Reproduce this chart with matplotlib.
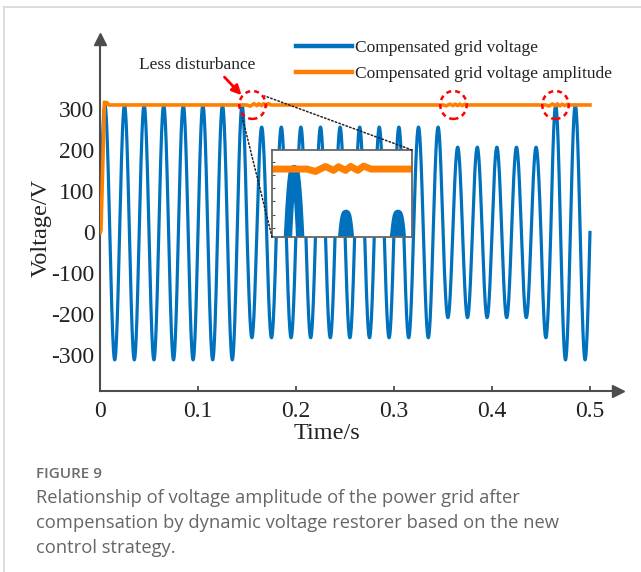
import numpy as np
import matplotlib
matplotlib.use("Agg")
import matplotlib.pyplot as plt
from matplotlib.patches import Ellipse, ConnectionPatch
from matplotlib.lines import Line2D

# ---------------------------------------------
# Data
# ---------------------------------------------
FREQ = 50.0                                   # grid frequency, Hz
seg_start = [0.0, 0.15, 0.35, 0.45, 0.46]     # s, start of each amplitude segment
seg_amp = [311, 257, 208, 257, 311]           # V, peak of the compensated voltage

# amplitude estimate (orange trace)
amp_t = [0.0, 0.001, 0.003, 0.0045, 0.0055, 0.007, 0.009,
         0.150, 0.1532, 0.1571, 0.1602, 0.1621, 0.1648, 0.1668, 0.1695, 0.1718, 0.1746,
         0.350, 0.3532, 0.3571, 0.3602, 0.3625, 0.3650, 0.3672, 0.3698, 0.3720, 0.3748,
         0.455, 0.4582, 0.4618, 0.4645, 0.4668, 0.4693, 0.4717, 0.4745, 0.4770, 0.4795,
         0.500]
amp_v = [0, 5, 180, 318, 313, 317, 311,
         311, 308.1, 314.1, 309.4, 313.8, 309.4, 314.2, 309.4, 314.6, 311,
         311, 309.0, 313.0, 309.5, 313.0, 309.5, 313.0, 309.5, 312.5, 311,
         311, 308.5, 313.5, 309.0, 313.5, 309.0, 313.0, 309.5, 312.5, 311,
         311]

yticks = [-300, -200, -100, 0, 100, 200, 300]
xticks = [0, 0.1, 0.2, 0.3, 0.4, 0.5]
xtick_labels = ["0", "0.1", "0.2", "0.3", "0.4", "0.5"]

t = np.linspace(0, 0.5, 25001)
idx = np.searchsorted(seg_start, t, side="right") - 1
v = np.asarray(seg_amp)[idx] * np.sin(2 * np.pi * FREQ * t)

BLUE = "#0072BD"
ORANGE = "#FF8000"
AXIS = "#4d4d4d"
TXT = "#222222"

plt.rcParams["font.family"] = ["Liberation Serif", "DejaVu Serif"]
plt.rcParams["axes.unicode_minus"] = False

W, H = 641, 572
fig = plt.figure(figsize=(W / 100, H / 100), dpi=100)


def px(l, t_, r, b):
    return [l / W, 1 - b / H, (r - l) / W, (b - t_) / H]


# ---------------------------------------------
# Main axes
# ---------------------------------------------
ax = fig.add_axes(px(100, 39, 618, 391))
ax.plot(t, v, color=BLUE, lw=2.3, label="Compensated grid voltage", zorder=2)
ax.plot(amp_t, amp_v, color=ORANGE, lw=2.6, label="Compensated grid voltage amplitude", zorder=3)

ax.set_xlim(0, 0.5286)
ax.set_ylim(-387, 472)
ax.set_xticks(xticks)
ax.set_xticklabels(xtick_labels)
ax.set_yticks(yticks)
ax.tick_params(axis="x", direction="in", length=3.6, width=1.3, color=AXIS,
               labelsize=17, labelcolor=TXT, pad=7)
ax.tick_params(axis="y", length=0, labelsize=17, labelcolor=TXT, pad=4)
for s in ["top", "right"]:
    ax.spines[s].set_visible(False)
for s in ["left", "bottom"]:
    ax.spines[s].set_color(AXIS)
    ax.spines[s].set_linewidth(1.5)
ax.plot(1, 0, ">", color=AXIS, ms=8, transform=ax.transAxes, clip_on=False)
ax.plot(0, 1, "^", color=AXIS, ms=8, transform=ax.transAxes, clip_on=False)

ax.set_xlabel("Time/s", fontsize=17.5, color=TXT)
ax.xaxis.set_label_coords(0.438, -0.092)
ax.set_ylabel("Voltage/V", fontsize=17.5, color=TXT)
ax.yaxis.set_label_coords(-0.094, 0.463)

leg = ax.legend(loc="upper left", bbox_to_anchor=(296 / W, 1 - 40 / H),
                bbox_transform=fig.transFigure, frameon=False, fontsize=12.5,
                handlelength=3.2, handletextpad=0.2, labelspacing=0.55,
                borderpad=0, borderaxespad=0)
for h in leg.get_lines():
    h.set_linewidth(3.2)
for txt in leg.get_texts():
    txt.set_color(TXT)

# disturbance markers
for cx in [0.1556, 0.3607, 0.4648]:
    ax.add_patch(Ellipse((cx, 311), 0.027, 68, fill=False, ec="#FF0000",
                         lw=1.8, ls=(0, (2, 1.6)), zorder=5))

ax.annotate("", xy=(0.1444, 335), xytext=(0.127, 379),
            arrowprops=dict(arrowstyle="-|>", color="#FF0000", lw=2,
                            mutation_scale=14, shrinkA=0, shrinkB=0))
ax.text(0.0995, 409, "Less disturbance", fontsize=12.5, color=TXT,
        ha="center", va="center")

# ---------------------------------------------
# Inset: zoom on the first disturbance
# ---------------------------------------------
ax_in = fig.add_axes(px(272, 150, 412, 237))
ax_in.plot(t, v, color=BLUE, lw=6)
ax_in.plot(amp_t, amp_v, color=ORANGE, lw=5, solid_joinstyle="round")
ax_in.set_xlim(0.1365, 0.1904)
ax_in.set_ylim(229, 334)
ax_in.set_xticks([0.165, 0.182])
ax_in.set_yticks(np.arange(240, 334, 16))
ax_in.tick_params(direction="in", length=2, width=0.8, color=AXIS,
                  labelbottom=False, labelleft=False)
for s in ax_in.spines.values():
    s.set_color("#666666")
    s.set_linewidth(1.3)

for xyA, xyB in [((1, 1), (0.168, 333)), ((0, 0), (0.1454, 279))]:
    con = ConnectionPatch(xyA=xyA, coordsA=ax_in.transAxes, xyB=xyB,
                          coordsB=ax.transData, ls=(0, (1, 1.5)), lw=1.1,
                          color="#222222", zorder=6)
    fig.add_artist(con)

# ---------------------------------------------
# Card border and caption
# ---------------------------------------------
fig.add_artist(Line2D([4 / W, 1], [1 - 7 / H, 1 - 7 / H], color="#d6d6d6", lw=1.2))
fig.add_artist(Line2D([4 / W, 4 / W], [0, 1 - 7 / H], color="#d6d6d6", lw=1.2))

cap_font = ["Open Sans", "DejaVu Sans"]
fig.text(36 / W, 1 - 474 / H, "FIGURE 9", fontsize=11, fontweight="semibold",
         color="#6b6b6b", family=cap_font, va="center")
caption = ["Relationship of voltage amplitude of the power grid after",
           "compensation by dynamic voltage restorer based on the new",
           "control strategy."]
for i, line in enumerate(caption):
    fig.text(36 / W, 1 - (498 + 25 * i) / H, line, fontsize=13.2,
             color="#666666", family=cap_font, va="center")

fig.savefig("out.png", dpi=100)
